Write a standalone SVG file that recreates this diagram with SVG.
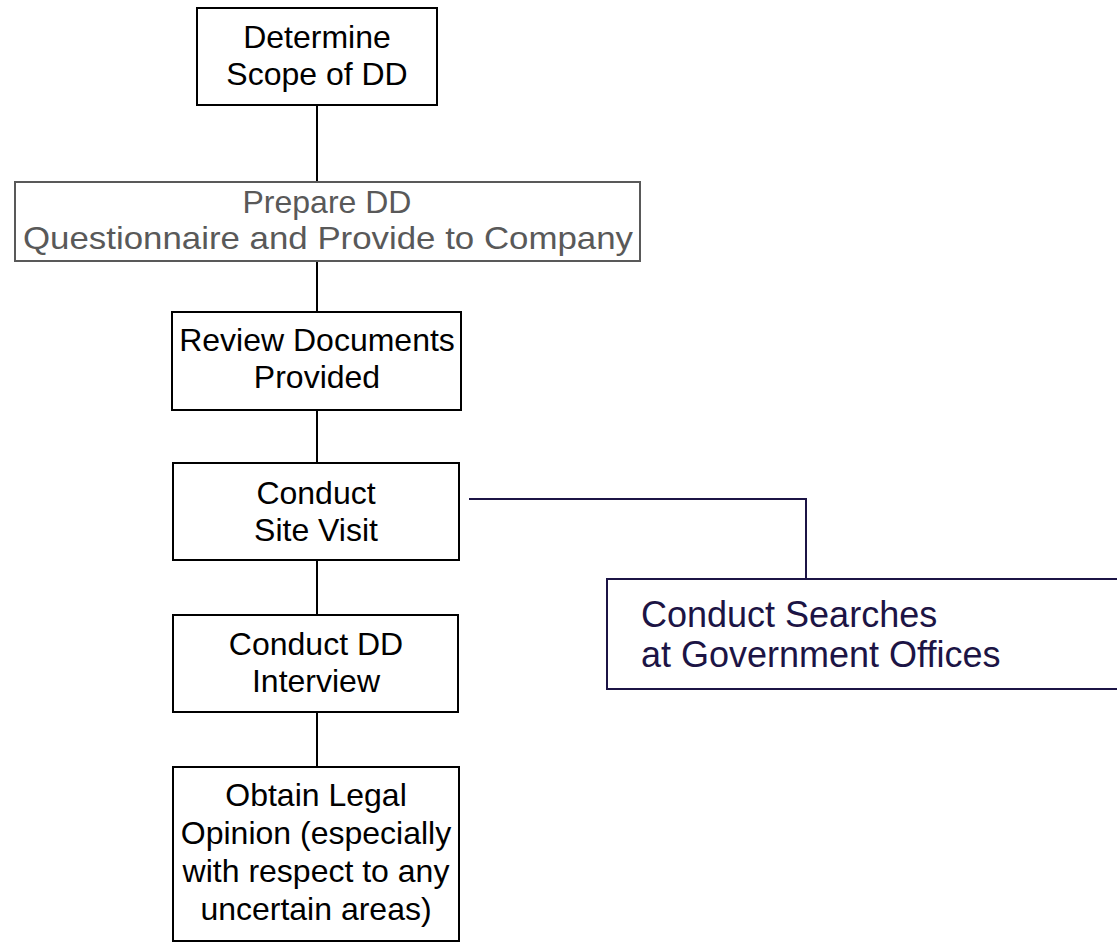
<svg xmlns="http://www.w3.org/2000/svg" width="1117" height="943" viewBox="0 0 1117 943">
<style>
.box{fill:#fff;stroke:#000;stroke-width:2}
.gbox{fill:#fff;stroke:#595959;stroke-width:2}
.nbox{fill:#fff;stroke:#1c1445;stroke-width:2}
.t{font-family:"Liberation Sans",Arial,sans-serif;font-size:32px;fill:#000;text-anchor:middle}
.gt{fill:#595959}
.nt{font-family:"Liberation Sans",Arial,sans-serif;font-size:36px;fill:#1c1445}
.c{stroke:#000;stroke-width:2;fill:none}
.nc{stroke:#1c1445;stroke-width:2;fill:none}
</style>
<rect width="1117" height="943" fill="#fff"/>
<g id="connectors">
<line class="c" x1="317" y1="105" x2="317" y2="182"/>
<line class="c" x1="317" y1="261" x2="317" y2="312"/>
<line class="c" x1="317" y1="410" x2="317" y2="463"/>
<line class="c" x1="317" y1="560" x2="317" y2="615"/>
<line class="c" x1="317" y1="712" x2="317" y2="767"/>
<polyline class="nc" points="469,499 806,499 806,579"/>
</g>
<g id="n1">
<rect class="box" x="197" y="8" width="240" height="97"/>
<text class="t" x="317" y="48">Determine</text>
<text class="t" x="317" y="85">Scope of DD</text>
</g>
<g id="n2">
<rect class="gbox" x="15" y="182" width="625" height="79"/>
<text class="t gt" x="327" y="213" font-size="33">Prepare DD</text>
<text class="t gt" x="328" y="249" font-size="34" textLength="610" lengthAdjust="spacingAndGlyphs">Questionnaire and Provide to Company</text>
</g>
<g id="n3">
<rect class="box" x="172" y="312" width="289" height="98"/>
<text class="t" x="317" y="351">Review Documents</text>
<text class="t" x="317" y="388">Provided</text>
</g>
<g id="n4">
<rect class="box" x="173" y="463" width="286" height="97"/>
<text class="t" x="316" y="504">Conduct</text>
<text class="t" x="316" y="541">Site Visit</text>
</g>
<g id="n5">
<rect class="box" x="173" y="615" width="285" height="97"/>
<text class="t" x="316" y="655">Conduct DD</text>
<text class="t" x="316" y="692">Interview</text>
</g>
<g id="n6">
<rect class="box" x="173" y="767" width="286" height="174"/>
<text class="t" x="316" y="806">Obtain Legal</text>
<text class="t" x="316" y="844">Opinion (especially</text>
<text class="t" x="316" y="882">with respect to any</text>
<text class="t" x="316" y="920">uncertain areas)</text>
</g>
<g id="n7">
<rect class="nbox" x="607" y="579" width="520" height="110"/>
<text class="nt" x="641" y="627">Conduct Searches</text>
<text class="nt" x="641" y="667">at Government Offices</text>
</g>
</svg>
